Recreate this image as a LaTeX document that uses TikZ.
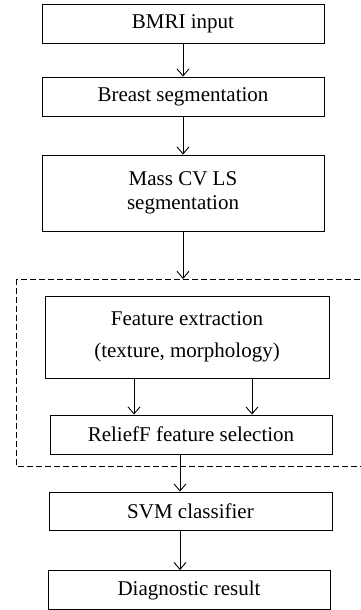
\documentclass[tikz,border=0pt]{standalone}
\usepackage{fontspec}
\setmainfont{Liberation Serif}
\usetikzlibrary{arrows.meta}
\tikzset{
  stage/.style={draw, line width=0.9pt, minimum width=282pt, minimum height=39pt,
    inner sep=0pt, align=center, font=\fontsize{21}{24}\selectfont},
  flow/.style={line width=0.9pt, -{Straight Barb[length=7pt,width=12pt]}},
  group/.style={line width=0.9pt, dash pattern=on 6pt off 3pt},
}
\begin{document}
\begin{tikzpicture}[x=1pt,y=-1pt]
\useasboundingbox (0,0) rectangle (361,610);
\node[stage] (input) at (183,23.5) {BMRI input};
\node[stage] (breast) at (183,96.5) {Breast segmentation};
\node[stage, minimum height=76pt] (mass) at (183,193) {Mass CV LS\\segmentation};

% feature block
\draw[group] (16,279) rectangle (370,466);
\coordinate (fblock) at (183,279);
\node[stage, minimum width=284pt, minimum height=82pt] (feat) at (187,337)
  {Feature extraction\\[8pt](texture, morphology)};
\node[stage] (relief) at (191,434.5) {ReliefF feature selection};

\node[stage, minimum width=283pt, minimum height=38pt] (svm) at (190.5,511) {SVM classifier};
\node[stage, minimum height=39pt] (result) at (189,590) {Diagnostic result};

\draw[flow] (input) -- (breast);
\draw[flow] (breast) -- (mass);
\draw[flow] (mass) -- (fblock);
\draw[flow] ([xshift=-53pt]feat.south) -- ([xshift=-53pt]feat.south |- relief.north);
\draw[flow] ([xshift=65pt]feat.south) -- ([xshift=65pt]feat.south |- relief.north);
\draw[flow] ([xshift=-11pt]relief.south) -- ([xshift=-11pt]relief.south |- svm.north);
\draw[flow] ([xshift=-10.5pt]svm.south) -- ([xshift=-10.5pt]svm.south |- result.north);
\end{tikzpicture}
\end{document}
